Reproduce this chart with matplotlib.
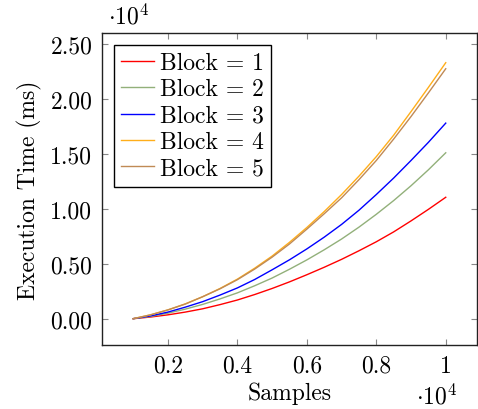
import matplotlib
matplotlib.use("Agg")
import matplotlib.pyplot as plt
from matplotlib.ticker import FixedLocator, FuncFormatter

# Data (samples, execution time in ms)
samples = [1000, 1500, 2000, 2500, 3000, 3500, 4000, 4500, 5000, 5500,
           6000, 6500, 7000, 7500, 8000, 8500, 9000, 9500, 10000]
block1 = [0, 150, 350, 600, 900, 1280, 1700, 2200, 2750, 3350,
          4000, 4680, 5400, 6180, 7000, 7900, 8900, 9950, 11050]
block2 = [0, 200, 500, 870, 1300, 1800, 2350, 3000, 3700, 4500,
          5350, 6270, 7250, 8330, 9500, 10750, 12100, 13550, 15100]
block3 = [0, 250, 600, 1050, 1550, 2150, 2800, 3570, 4450, 5360,
          6350, 7420, 8580, 9870, 11300, 12800, 14400, 16050, 17800]
block4 = [0, 350, 800, 1350, 2000, 2750, 3600, 4600, 5700, 6950,
          8300, 9750, 11300, 12970, 14750, 16700, 18850, 21050, 23300]
block5 = [0, 350, 800, 1330, 2000, 2720, 3550, 4520, 5600, 6800,
          8150, 9550, 11000, 12650, 14400, 16350, 18400, 20550, 22750]

labels = ["Block = 1", "Block = 2", "Block = 3", "Block = 4", "Block = 5"]
colors = ["#ff0000", "#92b07a", "#0000ff", "#ffae1a", "#c08a55"]

plt.rcParams["font.family"] = "serif"
plt.rcParams["font.serif"] = ["cmr10", "DejaVu Serif"]
plt.rcParams["mathtext.fontset"] = "cm"
plt.rcParams["axes.formatter.use_mathtext"] = True
fs = 17

fig = plt.figure(figsize=(4.78, 4.10), dpi=100)
ax = fig.add_axes([0.2134, 0.156, 0.7845, 0.761])

x = [s / 1e4 for s in samples]
for ys, lab, c in zip([block1, block2, block3, block4, block5], labels, colors):
    ax.plot(x, [v / 1e4 for v in ys], color=c, lw=1.0, label=lab)

ax.set_xlim(0.01, 1.09)
ax.set_ylim(-0.24, 2.6)
ax.xaxis.set_major_locator(FixedLocator([0.2, 0.4, 0.6, 0.8, 1.0]))
ax.xaxis.set_major_formatter(FuncFormatter(lambda v, p: "1" if abs(v - 1) < 1e-9 else "%.1f" % v))
ax.yaxis.set_major_locator(FixedLocator([0, 0.5, 1.0, 1.5, 2.0, 2.5]))
ax.yaxis.set_major_formatter(FuncFormatter(lambda v, p: "%.2f" % v))

ax.tick_params(direction="in", length=4, width=0.8, color="#888888",
               top=True, right=True, labelsize=fs, pad=7)
for sp in ax.spines.values():
    sp.set_linewidth(1.0)
    sp.set_color("#222222")

ax.set_xlabel("Samples", fontsize=fs, labelpad=3)
ax.set_ylabel("Execution Time (ms)", fontsize=fs, labelpad=6)

fig.text(0.225, 0.958, r"$\cdot 10^{4}$", fontsize=fs, ha="left", va="center")
fig.text(0.957, 0.032, r"$\cdot 10^{4}$", fontsize=fs, ha="right", va="center")

leg = ax.legend(loc="upper left", fontsize=fs, frameon=True, fancybox=False,
                framealpha=1, edgecolor="black", handlelength=1.4,
                handletextpad=0.25, labelspacing=0.18, borderpad=0.3,
                borderaxespad=0.5)
leg.get_frame().set_linewidth(1.0)

fig.savefig("out.png", dpi=100)
